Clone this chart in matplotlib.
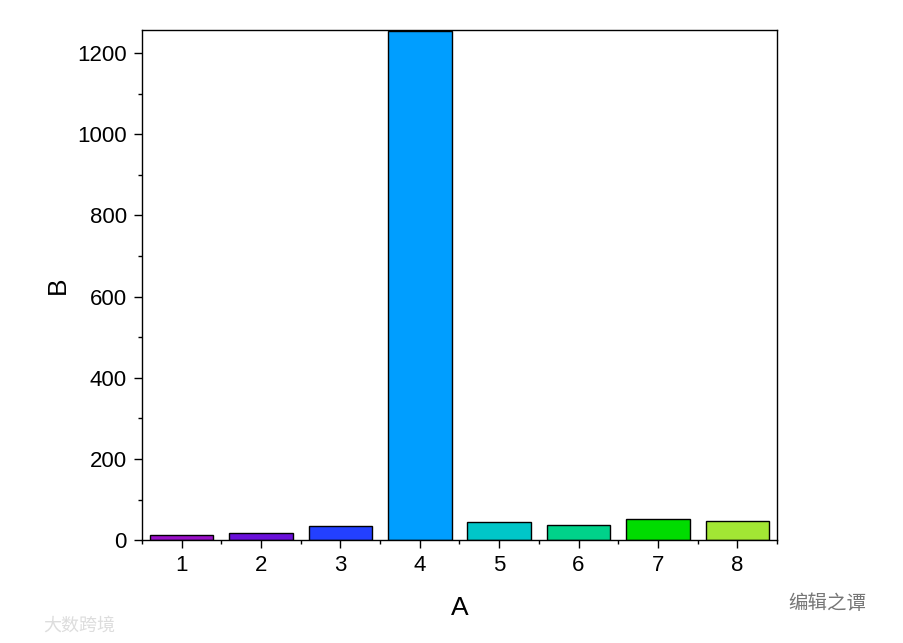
import matplotlib
matplotlib.use("Agg")
import matplotlib.pyplot as plt
from matplotlib.ticker import MultipleLocator

# ----------------------------------------
# Data
# ----------------------------------------
categories = [1, 2, 3, 4, 5, 6, 7, 8]
values = [12, 17, 34, 1255, 44, 37, 53, 46]
bar_colors = ["#9A10C8", "#6A10DA", "#2340FF", "#009EFF",
              "#00C6C8", "#00D28A", "#00DC00", "#A2E634"]

plt.rcParams["font.family"] = ["Liberation Sans", "DejaVu Sans"]

# ----------------------------------------
# Plot
# ----------------------------------------
fig = plt.figure(figsize=(9.04, 6.43), dpi=100)
ax = fig.add_axes([0.157, 0.160, 0.7025, 0.794])

ax.bar(categories, values, width=0.8, color=bar_colors,
       edgecolor="black", linewidth=1)

ax.set_xlim(0.5, 8.5)
ax.set_ylim(0, 1258)
ax.set_xticks(categories)
ax.xaxis.set_minor_locator(MultipleLocator(1, offset=0.5))
ax.yaxis.set_major_locator(MultipleLocator(200))
ax.yaxis.set_minor_locator(MultipleLocator(100))

ax.tick_params(axis="both", which="major", direction="out", length=6,
               width=1, labelsize=16, pad=5, top=False, right=False)
ax.tick_params(axis="both", which="minor", direction="out", length=3,
               width=1, top=False, right=False)
for s in ax.spines.values():
    s.set_linewidth(1)

ax.set_xlabel("A", fontsize=19, labelpad=14)
ax.set_ylabel("B", fontsize=19, labelpad=5)

# watermarks
fig.text(0.872, 0.062, "编辑之谭", fontsize=14, color="#777777",
         family=["Noto Sans CJK SC", "DejaVu Sans"], ha="left", va="center")
fig.text(0.048, 0.027, "大数跨境", fontsize=13, color="#dddddd",
         family=["Noto Sans CJK SC", "DejaVu Sans"], ha="left", va="center")

fig.savefig("out.png", dpi=100)
